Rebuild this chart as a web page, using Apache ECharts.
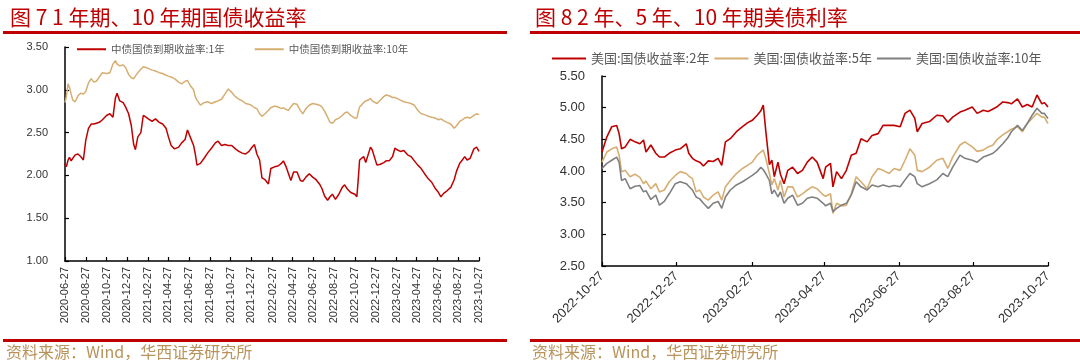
<!DOCTYPE html>
<html>
<head>
<meta charset="utf-8">
<script src="https://cdn.jsdelivr.net/npm/echarts@6/dist/echarts.min.js"></script>
<style>
html,body{margin:0;padding:0;background:#fff;}
#c{width:1080px;height:363px;}
</style>
</head>
<body>
<div id="c"></div>
<script>
// ---------- Figure 7: China government bond yields ----------
const cnStart = '2020-06-27', cnEnd = '2023-10-27';
const cnDates = ['2020-06-27','2020-07-01','2020-07-06','2020-07-10','2020-07-15','2020-07-20','2020-07-27','2020-08-04','2020-08-12','2020-08-20','2020-08-27','2020-09-04','2020-09-12','2020-09-20','2020-09-27','2020-10-06','2020-10-15','2020-10-27','2020-11-06','2020-11-15','2020-11-22','2020-11-27','2020-12-05','2020-12-15','2020-12-22','2020-12-31','2021-01-08','2021-01-15','2021-01-20','2021-01-27','2021-02-05','2021-02-12','2021-02-20','2021-02-27','2021-03-10','2021-03-20','2021-03-31','2021-04-10','2021-04-20','2021-04-27','2021-05-05','2021-05-15','2021-05-27','2021-06-05','2021-06-15','2021-06-22','2021-06-30','2021-07-10','2021-07-15','2021-07-20','2021-07-30','2021-08-10','2021-08-20','2021-09-01','2021-09-12','2021-09-20','2021-09-30','2021-10-10','2021-10-20','2021-10-30','2021-11-10','2021-11-20','2021-11-30','2021-12-10','2021-12-20','2021-12-27','2022-01-05','2022-01-12','2022-01-20','2022-01-27','2022-02-05','2022-02-15','2022-02-22','2022-03-05','2022-03-15','2022-03-25','2022-03-31','2022-04-08','2022-04-15','2022-04-22','2022-04-30','2022-05-10','2022-05-20','2022-05-27','2022-06-05','2022-06-15','2022-06-25','2022-07-05','2022-07-15','2022-07-22','2022-07-30','2022-08-08','2022-08-15','2022-08-22','2022-08-31','2022-09-10','2022-09-20','2022-09-27','2022-10-05','2022-10-15','2022-10-27','2022-11-02','2022-11-06','2022-11-10','2022-11-15','2022-11-22','2022-11-28','2022-12-05','2022-12-12','2022-12-17','2022-12-22','2022-12-31','2023-01-10','2023-01-20','2023-01-27','2023-02-05','2023-02-15','2023-02-22','2023-02-28','2023-03-10','2023-03-20','2023-03-31','2023-04-10','2023-04-20','2023-04-30','2023-05-10','2023-05-20','2023-05-31','2023-06-10','2023-06-20','2023-06-30','2023-07-07','2023-07-15','2023-07-25','2023-08-05','2023-08-15','2023-08-22','2023-08-31','2023-09-08','2023-09-15','2023-09-22','2023-10-01','2023-10-12','2023-10-20','2023-10-27'];
const cn1y = [2.14,2.10,2.18,2.21,2.17,2.20,2.24,2.25,2.22,2.18,2.41,2.55,2.60,2.60,2.61,2.62,2.65,2.70,2.72,2.68,2.90,2.96,2.87,2.85,2.80,2.72,2.58,2.36,2.30,2.45,2.50,2.70,2.68,2.66,2.63,2.66,2.62,2.60,2.55,2.45,2.35,2.31,2.33,2.38,2.42,2.53,2.45,2.35,2.25,2.12,2.14,2.20,2.26,2.32,2.38,2.40,2.35,2.36,2.35,2.35,2.31,2.28,2.26,2.25,2.28,2.32,2.36,2.25,2.18,1.97,1.95,1.90,2.08,2.10,2.11,2.14,2.17,2.10,2.02,1.94,2.04,2.04,1.94,1.93,1.98,2.02,1.98,1.95,1.90,1.85,1.76,1.71,1.75,1.78,1.72,1.78,1.86,1.89,1.84,1.80,1.78,1.75,1.95,2.18,2.20,2.22,2.15,2.24,2.33,2.30,2.28,2.12,2.13,2.15,2.17,2.17,2.22,2.32,2.30,2.28,2.29,2.24,2.22,2.17,2.12,2.08,2.02,1.96,1.92,1.85,1.80,1.75,1.79,1.82,1.86,1.95,2.05,2.14,2.18,2.22,2.18,2.20,2.31,2.33,2.28];
const cn10y = [2.85,2.92,3.07,3.03,2.95,2.88,2.86,2.93,2.96,2.95,2.98,3.08,3.13,3.09,3.10,3.15,3.20,3.19,3.20,3.30,3.34,3.30,3.28,3.29,3.26,3.18,3.14,3.13,3.16,3.20,3.24,3.27,3.26,3.25,3.23,3.22,3.20,3.19,3.17,3.16,3.15,3.13,3.09,3.07,3.10,3.11,3.05,3.00,2.92,2.88,2.82,2.85,2.86,2.84,2.86,2.87,2.89,2.95,3.01,2.97,2.92,2.89,2.87,2.84,2.83,2.82,2.79,2.78,2.72,2.69,2.72,2.76,2.79,2.81,2.80,2.78,2.79,2.77,2.76,2.80,2.84,2.83,2.76,2.72,2.78,2.82,2.84,2.83,2.82,2.80,2.75,2.68,2.62,2.61,2.65,2.67,2.70,2.73,2.74,2.70,2.67,2.67,2.74,2.80,2.82,2.85,2.87,2.88,2.90,2.87,2.85,2.84,2.88,2.92,2.94,2.93,2.91,2.91,2.90,2.88,2.86,2.85,2.84,2.82,2.76,2.72,2.71,2.69,2.68,2.67,2.65,2.66,2.64,2.62,2.60,2.55,2.58,2.63,2.65,2.67,2.68,2.67,2.70,2.72,2.71];
const cnTicks = ['1.00','1.50','2.00','2.50','3.00','3.50'];

// ---------- Figure 8: US Treasury yields ----------
const usStart = '2022-10-27', usEnd = '2023-10-27';
const usDates = ['2022-10-27','2022-10-31','2022-11-04','2022-11-08','2022-11-10','2022-11-12','2022-11-15','2022-11-19','2022-11-23','2022-11-27','2022-11-30','2022-12-02','2022-12-06','2022-12-10','2022-12-13','2022-12-17','2022-12-21','2022-12-26','2022-12-30','2023-01-04','2023-01-06','2023-01-09','2023-01-12','2023-01-15','2023-01-18','2023-01-22','2023-01-26','2023-01-30','2023-02-02','2023-02-05','2023-02-09','2023-02-14','2023-02-19','2023-02-23','2023-02-27','2023-03-03','2023-03-06','2023-03-08','2023-03-10','2023-03-13','2023-03-15','2023-03-17','2023-03-20','2023-03-22','2023-03-25','2023-03-28','2023-04-01','2023-04-05','2023-04-09','2023-04-13','2023-04-17','2023-04-21','2023-04-26','2023-04-28','2023-05-02','2023-05-04','2023-05-07','2023-05-11','2023-05-15','2023-05-19','2023-05-23','2023-05-27','2023-06-01','2023-06-05','2023-06-10','2023-06-14','2023-06-19','2023-06-23','2023-06-28','2023-07-02','2023-07-06','2023-07-10','2023-07-12','2023-07-16','2023-07-22','2023-07-28','2023-08-02','2023-08-06','2023-08-10','2023-08-16','2023-08-20','2023-08-26','2023-08-30','2023-09-04','2023-09-08','2023-09-12','2023-09-15','2023-09-20','2023-09-24','2023-09-27','2023-10-02','2023-10-06','2023-10-10','2023-10-14','2023-10-18','2023-10-22','2023-10-24','2023-10-27'];
const us2y = [4.30,4.54,4.70,4.72,4.59,4.35,4.38,4.50,4.46,4.43,4.49,4.30,4.41,4.28,4.22,4.22,4.28,4.33,4.35,4.43,4.28,4.20,4.16,4.14,4.08,4.16,4.15,4.20,4.09,4.46,4.51,4.62,4.70,4.76,4.80,4.88,4.95,5.04,4.64,4.10,4.17,3.91,4.14,3.95,3.80,4.01,4.06,3.96,4.01,4.14,4.22,4.14,3.88,4.06,4.12,3.75,3.99,3.88,4.01,4.25,4.28,4.51,4.46,4.56,4.59,4.72,4.72,4.72,4.70,4.91,4.96,4.83,4.62,4.75,4.78,4.88,4.87,4.77,4.85,4.93,4.96,5.01,4.91,4.96,4.94,4.98,5.01,5.09,5.08,5.06,5.14,5.01,5.05,5.01,5.20,5.06,5.08,5.01];
const us5y = [4.14,4.30,4.35,4.38,4.25,3.99,4.01,3.91,3.95,3.90,3.80,3.84,3.72,3.80,3.67,3.70,3.83,3.93,3.99,3.96,3.92,3.88,3.67,3.70,3.59,3.54,3.62,3.67,3.54,3.75,3.85,3.96,4.04,4.09,4.14,4.25,4.30,4.33,4.20,3.96,3.78,3.88,3.70,3.85,3.59,3.75,3.75,3.59,3.64,3.70,3.75,3.72,3.62,3.60,3.64,3.33,3.49,3.45,3.46,3.64,3.91,3.83,3.72,3.91,4.04,4.01,3.96,4.04,4.01,4.17,4.35,4.25,4.01,3.99,4.06,4.17,4.20,4.04,4.22,4.41,4.46,4.38,4.31,4.33,4.38,4.41,4.49,4.57,4.62,4.66,4.70,4.62,4.75,4.83,4.91,4.85,4.85,4.75];
const us10y = [4.04,4.12,4.17,4.22,4.14,3.85,3.88,3.72,3.76,3.77,3.67,3.69,3.55,3.62,3.46,3.52,3.64,3.80,3.83,3.80,3.76,3.70,3.59,3.56,3.49,3.41,3.49,3.52,3.41,3.59,3.70,3.78,3.83,3.88,3.93,3.99,4.06,4.02,3.96,3.85,3.64,3.70,3.59,3.67,3.49,3.57,3.62,3.46,3.49,3.57,3.59,3.57,3.49,3.45,3.49,3.36,3.41,3.46,3.49,3.62,3.83,3.75,3.70,3.78,3.75,3.78,3.75,3.77,3.75,3.86,3.96,3.91,3.80,3.75,3.80,3.86,3.96,3.91,4.06,4.25,4.20,4.17,4.14,4.22,4.25,4.28,4.33,4.43,4.52,4.62,4.72,4.64,4.75,4.88,4.99,4.91,4.91,4.83];
const usTicks = ['2.50','3.00','3.50','4.00','4.50','5.00','5.50'];

// ---------- helpers ----------
function pad(n){return (n<10?'0':'')+n;}
function dayList(a,b){
  const out=[]; const [y0,m0,d0]=a.split('-').map(Number); const [y1,m1,d1]=b.split('-').map(Number);
  let t=Date.UTC(y0,m0-1,d0); const e=Date.UTC(y1,m1-1,d1);
  while(t<=e){const d=new Date(t); out.push(d.getUTCFullYear()+'-'+pad(d.getUTCMonth()+1)+'-'+pad(d.getUTCDate())); t+=86400000;}
  return out;
}
const cnCats = dayList(cnStart, cnEnd);
const usCats = dayList(usStart, usEnd);
function isTick(idx, val){ const p = val.split('-'); return p[2]==='27' && (+p[1])%2===0; }
function pairs(dates, vals){ return dates.map((d,i)=>[d, vals[i]]); }

const RED='#C00000', TAN='#D6AE72', GRAY='#808080';
const NUMF = "'Liberation Sans','Noto Sans CJK SC',sans-serif";
const CJKF = "'Noto Sans CJK SC',sans-serif";

function xAxisCfg(cats, gridIndex, rot, fs, margin){
  return {
    type:'category', gridIndex, data:cats, boundaryGap:false,
    axisLine:{lineStyle:{color:'#000',width:1.5}},
    axisTick:{show:true, inside:true, length:4, interval:isTick, lineStyle:{color:'#000',width:1.2}},
    axisLabel:{interval:isTick, rotate:rot, fontSize:fs, color:'#333', fontFamily:NUMF, margin},
    splitLine:{show:false}
  };
}
function yAxisCfg(ticks, gridIndex, fs){
  return {
    type:'value', gridIndex, min:+ticks[0], max:+ticks[ticks.length-1], interval:0.5,
    axisLine:{show:true, lineStyle:{color:'#000',width:1.5}},
    axisTick:{show:true, inside:true, length:4, lineStyle:{color:'#000',width:1.2}},
    axisLabel:{fontSize:fs, color:'#333', fontFamily:NUMF, margin:17, formatter:v=>v.toFixed(2)},
    splitLine:{show:false}
  };
}

const chart = echarts.init(document.getElementById('c'), null, {renderer:'canvas'});
chart.setOption({
  animation:false,
  backgroundColor:'#fff',
  title:[
    {text:'图 7 1 年期、10 年期国债收益率', left:5, top:2, textStyle:{color:RED, fontSize:21, fontWeight:'normal', fontFamily:CJKF}},
    {text:'图 8 2 年、5 年、10 年期美债利率', left:530, top:2, textStyle:{color:RED, fontSize:21, fontWeight:'normal', fontFamily:CJKF}}
  ],
  legend:[
    {left:72, top:39, icon:'rect', itemWidth:29, itemHeight:2, itemGap:30, data:['中债国债到期收益率:1年','中债国债到期收益率:10年'],
     textStyle:{fontSize:10.5, color:'#595959', fontFamily:CJKF}},
    {left:547, top:47, icon:'rect', itemWidth:34, itemHeight:2, itemGap:5, data:['美国:国债收益率:2年','美国:国债收益率:5年','美国:国债收益率:10年'],
     textStyle:{fontSize:13, color:'#595959', fontFamily:CJKF}}
  ],
  grid:[
    {left:65, right:601, top:47, bottom:102},
    {left:602, right:32, top:76, bottom:97}
  ],
  xAxis:[ xAxisCfg(cnCats,0,90,11,6), xAxisCfg(usCats,1,45,13,8) ],
  yAxis:[ yAxisCfg(cnTicks,0,11), yAxisCfg(usTicks,1,13) ],
  series:[
    {name:'中债国债到期收益率:1年', type:'line', xAxisIndex:0, yAxisIndex:0, symbol:'none', data:pairs(cnDates,cn1y), lineStyle:{color:RED,width:1.5}, itemStyle:{color:RED}},
    {name:'中债国债到期收益率:10年', type:'line', xAxisIndex:0, yAxisIndex:0, symbol:'none', data:pairs(cnDates,cn10y), lineStyle:{color:TAN,width:1.5}, itemStyle:{color:TAN}},
    {name:'美国:国债收益率:2年', type:'line', xAxisIndex:1, yAxisIndex:1, symbol:'none', data:pairs(usDates,us2y), lineStyle:{color:RED,width:1.6}, itemStyle:{color:RED}},
    {name:'美国:国债收益率:5年', type:'line', xAxisIndex:1, yAxisIndex:1, symbol:'none', data:pairs(usDates,us5y), lineStyle:{color:TAN,width:1.6}, itemStyle:{color:TAN}},
    {name:'美国:国债收益率:10年', type:'line', xAxisIndex:1, yAxisIndex:1, symbol:'none', data:pairs(usDates,us10y), lineStyle:{color:GRAY,width:1.6}, itemStyle:{color:GRAY}}
  ],
  graphic:[
    {type:'rect', shape:{x:3,y:31,width:504,height:3}, style:{fill:RED}, silent:true},
    {type:'rect', shape:{x:530,y:31,width:550,height:3}, style:{fill:RED}, silent:true},
    {type:'rect', shape:{x:3,y:339,width:504,height:3}, style:{fill:RED}, silent:true},
    {type:'rect', shape:{x:530,y:339,width:550,height:3}, style:{fill:RED}, silent:true},
    {type:'text', left:6, top:344, style:{text:'资料来源：Wind，华西证券研究所', fill:'#B8935A', font:"16px 'Noto Sans CJK SC'"}},
    {type:'text', left:532, top:344, style:{text:'资料来源：Wind，华西证券研究所', fill:'#B8935A', font:"16px 'Noto Sans CJK SC'"}}
  ]
});
</script>
</body>
</html>
